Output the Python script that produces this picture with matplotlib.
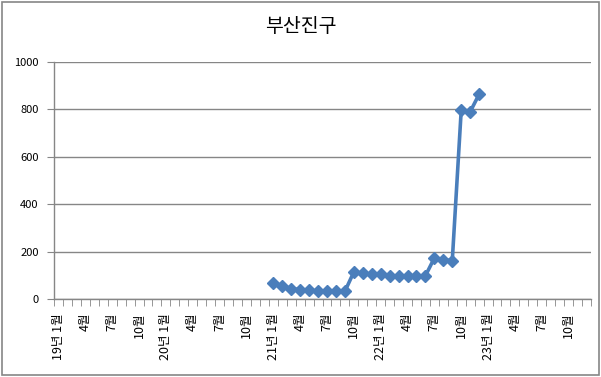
import matplotlib
matplotlib.use("Agg")
import matplotlib.pyplot as plt
import numpy as np
from matplotlib.patches import Rectangle

plt.rcParams['font.family'] = ['Noto Sans CJK KR', 'DejaVu Sans']

title = "부산진구"
years = ["19", "20", "21", "22", "23"]
months = list(range(1, 13))
# monthly values; None = no data (2019-01 .. 2020-12 empty)
values_2019 = [None] * 12
values_2020 = [None] * 12
values_2021 = [66, 55, 44, 39, 39, 32, 32, 32, 32, 114, 108, 104]
values_2022 = [104, 98, 98, 98, 98, 98, 173, 165, 162, 797, 790, 864]
values_2023 = [None] * 12
yticks = [0, 200, 400, 600, 800, 1000]

values = values_2019 + values_2020 + values_2021 + values_2022 + values_2023
y = np.array([np.nan if v is None else v for v in values], dtype=float)
n = len(y)
cats = []
for yr in years:
    for m in months:
        cats.append(f"{yr}년 {m}월" if m == 1 else f"{m}월")

fig = plt.figure(figsize=(6.01, 3.77), dpi=100)
fig.patches.append(Rectangle((0.004, 0.005), 0.992, 0.99, transform=fig.transFigure,
                             fill=False, edgecolor='#868686', linewidth=1.2))
ax = fig.add_axes([54/601, 1-299/377, (591-54)/601, (299-62)/377])

x = np.arange(n) + 0.5
ax.plot(x, y, color='#4A7EBB', linewidth=2.6, marker='D', markersize=6,
        markerfacecolor='#4A7EBB', markeredgecolor='#4A7EBB', zorder=3)

ax.set_xlim(0, n)
ax.set_ylim(0, 1000)
ax.set_yticks(yticks)
ax.set_yticklabels([str(t) for t in yticks], fontsize=8)
ax.yaxis.grid(True, color='#868686', linewidth=1)
ax.set_axisbelow(True)

# labels every 3 months at category centres
lab_idx = list(range(0, n, 3))
ax.set_xticks([i + 0.5 for i in lab_idx])
ax.set_xticklabels([cats[i] for i in lab_idx], rotation=90, fontsize=9, va='top', ha='center')
ax.set_xticks(np.arange(0, n + 1), minor=True)
ax.tick_params(axis='x', which='major', length=0, pad=10)
ax.tick_params(axis='x', which='minor', length=5, color='#868686', direction='out')
ax.tick_params(axis='y', length=5, color='#868686', direction='out', pad=6)

for s in ['top', 'right']:
    ax.spines[s].set_visible(False)
for s in ['left', 'bottom']:
    ax.spines[s].set_color('#868686')
    ax.spines[s].set_linewidth(1)

fig.text(0.5, 1-27/377, title, ha='center', va='center', fontsize=14)

fig.savefig('out.png', dpi=100)
